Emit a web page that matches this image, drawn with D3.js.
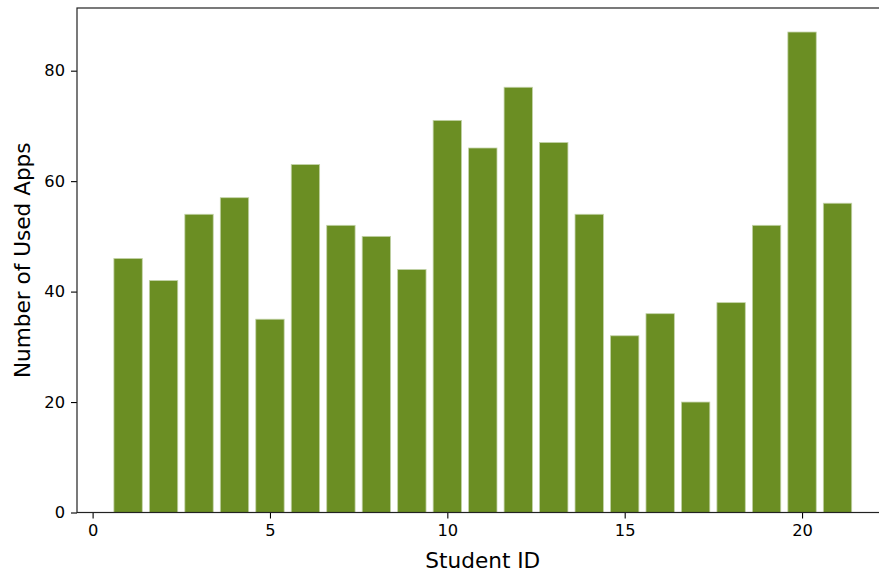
<!DOCTYPE html>
<html>
<head>
<meta charset="utf-8">
<script src="https://cdn.jsdelivr.net/npm/d3@7"></script>
<style>
  html, body { margin: 0; padding: 0; background: #fff; }
  svg { display: block; }
  text { font-family: "DejaVu Sans", sans-serif; fill: #000; }
</style>
</head>
<body>
<div id="chart"></div>
<script>
// Apps used per student
const studentIds = [1, 2, 3, 4, 5, 6, 7, 8, 9, 10, 11, 12, 13, 14, 15, 16, 17, 18, 19, 20, 21];
const usedApps = [46, 42, 54, 57, 35, 63, 52, 50, 44, 71, 66, 77, 67, 54, 32, 36, 20, 38, 52, 87, 56];
const xTicks = [0, 5, 10, 15, 20];
const yTicks = [0, 20, 40, 60, 80];

const W = 879, H = 573;
const plot = { left: 77, right: 888.6, top: 8, bottom: 512.5 };
const barWidth = 0.8;

const svg = d3.select("#chart").append("svg")
  .attr("width", W).attr("height", H);

// matplotlib-style 5% margins around the bar extent
const xMin = d3.min(studentIds) - barWidth / 2;
const xMax = d3.max(studentIds) + barWidth / 2;
const xPad = (xMax - xMin) * 0.05;
const x = d3.scaleLinear()
  .domain([xMin - xPad, xMax + xPad])
  .range([plot.left, plot.right]);

const y = d3.scaleLinear()
  .domain([0, d3.max(usedApps) * 1.05])
  .range([plot.bottom, plot.top]);

// bars
svg.append("g")
  .selectAll("rect")
  .data(studentIds)
  .join("rect")
  .attr("x", (d) => x(d - barWidth / 2))
  .attr("width", (d) => x(d + barWidth / 2) - x(d - barWidth / 2))
  .attr("y", (d, i) => y(usedApps[i]))
  .attr("height", (d, i) => y(0) - y(usedApps[i]))
  .attr("fill", "#6b8e23")
  .attr("stroke", "#c3d3a8")
  .attr("stroke-width", 0.8);

// axes
const xAxis = d3.axisBottom(x).tickValues(xTicks).tickSize(6).tickPadding(6).tickFormat(d3.format("d"));
const yAxis = d3.axisLeft(y).tickValues(yTicks).tickSize(6).tickPadding(6).tickFormat(d3.format("d"));

const gx = svg.append("g").attr("transform", `translate(0,${plot.bottom})`).call(xAxis);
const gy = svg.append("g").attr("transform", `translate(${plot.left},0)`).call(yAxis);

[gx, gy].forEach((g) => {
  g.select(".domain").remove();
  g.selectAll(".tick line").attr("stroke", "#000").attr("stroke-width", 1.1);
  g.selectAll(".tick text").attr("font-size", "16.3px").attr("font-family", "DejaVu Sans, sans-serif").attr("fill", "#000");
});

// frame (spines)
svg.append("rect")
  .attr("x", plot.left).attr("y", plot.top)
  .attr("width", plot.right - plot.left)
  .attr("height", plot.bottom - plot.top)
  .attr("fill", "none")
  .attr("stroke", "#222")
  .attr("stroke-width", 1.2);

// axis titles
svg.append("text")
  .attr("x", (plot.left + plot.right) / 2)
  .attr("y", 568)
  .attr("text-anchor", "middle")
  .attr("font-size", "21.6px")
  .text("Student ID");

svg.append("text")
  .attr("transform", `translate(30,${(plot.top + plot.bottom) / 2}) rotate(-90)`)
  .attr("text-anchor", "middle")
  .attr("font-size", "21.6px")
  .text("Number of Used Apps");
</script>
</body>
</html>
